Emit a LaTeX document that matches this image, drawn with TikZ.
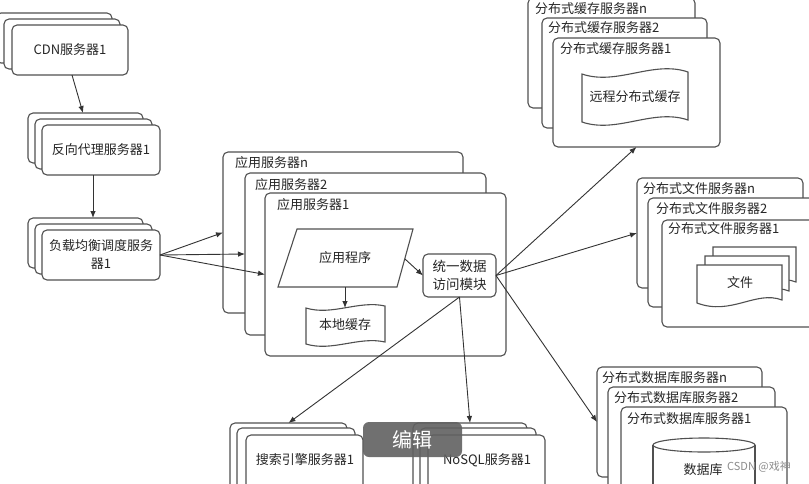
\documentclass[tikz,border=0pt]{standalone}
\usepackage{fontspec}
\setmainfont{Noto Sans CJK SC}
\usetikzlibrary{arrows.meta}
\definecolor{ln}{HTML}{505050}
\newcommand\mksrv[5]{\node[srv, anchor=north west, minimum width=#4pt, minimum height=#5pt] (#1) at (#2,#3) {};}
\begin{document}
\begin{tikzpicture}[x=1pt,y=-1pt,
 srv/.style={draw=ln, fill=white, line width=1.1pt, rounded corners=5pt, inner sep=0pt, outer sep=0pt},
 lbl/.style={font=\fontsize{13}{15}\selectfont, text=black!85, inner sep=0pt, anchor=west},
 txt/.style={font=\fontsize{13}{18}\selectfont, text=black!85, inner sep=0pt, align=center},
 shp/.style={draw=ln, fill=white, line width=1.1pt},
 arr/.style={draw=black!80, line width=0.9pt, -{Latex[length=7pt,width=5.5pt]}},
]
\useasboundingbox (0,0) rectangle (809,483);
\clip (0,0) rectangle (809,483);
\fill[white] (0,0) rectangle (809,483);

% CDN stack
\mksrv{cdn3}{-4}{13}{116}{50}
\mksrv{cdn2}{4}{19}{116}{50}
\node[srv, anchor=north west, minimum width=116pt, minimum height=50pt, txt] (cdn1) at (12,25) {CDN服务器1};
% reverse proxy
\mksrv{px3}{28}{113}{115}{50}
\mksrv{px2}{35}{119}{117}{50}
\node[srv, anchor=north west, minimum width=118pt, minimum height=50pt, txt] (px1) at (42,125) {反向代理服务器1};
% load balancer
\mksrv{lb3}{28}{218}{115}{50}
\mksrv{lb2}{35}{224}{117}{50}
\node[srv, anchor=north west, minimum width=118pt, minimum height=50pt, txt] (lb1) at (42,230) {负载均衡调度服务\\器1};

% application servers
\mksrv{appn}{223}{152}{240}{161}
\node[lbl] (lappn) at (235,163) {应用服务器n};
\mksrv{app2}{245}{173}{241}{162}
\node[lbl] (lapp2) at (255,185) {应用服务器2};
\mksrv{app1}{265}{193}{241}{163}
\node[lbl] (lapp1) at (277,205) {应用服务器1};
\draw[shp] (297,229) -- (413,229) -- (397,287) -- (278,287) -- cycle;
\node[txt] (prog) at (345,258) {应用程序};
\coordinate (progR) at (405,259);
\coordinate (progB) at (345,287);
\draw[shp] (306,308) .. controls (332,316) and (359,300) .. (385,306) -- (385,342) .. controls (359,336) and (332,352) .. (306,344) -- cycle;
\node[txt] (localc) at (345,325) {本地缓存};
\coordinate (localT) at (345,308);
\node[srv, anchor=north west, minimum width=73pt, minimum height=43pt, txt, font=\fontsize{13.5}{18}\selectfont] (module) at (423,254) {统一数据\\访问模块};

% cache servers
\mksrv{cachen}{528}{-2}{167}{110}
\node[lbl] (lcachen) at (535,9) {分布式缓存服务器n};
\mksrv{cache2}{542}{18}{165}{110}
\node[lbl] (lcache2) at (548,28) {分布式缓存服务器2};
\mksrv{cache1}{553}{38}{167}{109}
\node[lbl] (lcache1) at (560,49) {分布式缓存服务器1};
\draw[shp] (582,74) .. controls (617,86) and (653,60) .. (688,72) -- (688,120) .. controls (653,108) and (617,134) .. (582,122) -- cycle;
\node[txt] (remote) at (635,97) {远程分布式缓存};

% file servers
\mksrv{filen}{637}{178}{166}{110}
\node[lbl] (lfilen) at (643,189) {分布式文件服务器n};
\mksrv{file2}{648}{198}{167}{109}
\node[lbl] (lfile2) at (656,209) {分布式文件服务器2};
\mksrv{file1}{662}{220}{168}{107}
\node[lbl] (lfile1) at (668,229) {分布式文件服务器1};
\draw[shp] (713,247) -- (796,247) -- (796,282) .. controls (770,272) and (745,298) .. (713,285) -- cycle;
\draw[shp] (705,256) -- (789,256) -- (789,291) .. controls (763,281) and (738,307) .. (705,294) -- cycle;
\draw[shp] (697,265) -- (782,265) -- (782,300) .. controls (756,290) and (731,316) .. (697,303) -- cycle;
\node[txt] (files) at (740,283) {文件};

% database servers
\mksrv{dbn}{597}{367}{165}{110}
\node[lbl] (ldbn) at (602,378) {分布式数据库服务器n};
\mksrv{db2}{608}{387}{167}{110}
\node[lbl] (ldb2) at (614,398) {分布式数据库服务器2};
\mksrv{db1}{621}{407}{166}{110}
\node[lbl] (ldb1) at (627,419) {分布式数据库服务器1};
\filldraw[shp] (653,445) -- (653,500) -- (755,500) -- (755,445);
\draw[shp] (704,445) ellipse [x radius=51pt, y radius=7pt];
\node[txt] (dbtxt) at (703,470) {数据库};

% search servers
\mksrv{se3}{230}{423}{117}{80}
\mksrv{se2}{237}{428}{118}{80}
\mksrv{se1}{246}{435}{117}{80}
\node[txt] (setxt) at (305,460) {搜索引擎服务器1};
% NoSQL servers
\mksrv{ns3}{413}{423}{114}{80}
\mksrv{ns2}{420}{428}{116}{80}
\mksrv{ns1}{428}{435}{117}{80}
\node[txt] (nstxt) at (487,460) {NoSQL服务器1};

% connectors
\draw[arr] ([xshift=2pt]cdn1.south) -- ([xshift=-2.5pt]px3.north);
\draw[arr] ([xshift=-8pt]px1.south) -- ([xshift=7.5pt]lb3.north);
\draw[arr] (lb1.east) -- (appn.west);
\draw[arr] (lb1.east) -- (app2.west);
\draw[arr] (lb1.east) -- (app1.west);
\draw[arr] (progB) -- (localT);
\draw[arr] (progR) -- (module.west);
\draw[arr] (module.east) -- (cache1.south);
\draw[arr] (module.east) -- (filen.west);
\draw[arr] (module.east) -- (dbn.west);
\draw[arr] (module.south) -- (se3.north);
\draw[arr] (module.south) -- (ns3.north);

% overlay and watermark
\node[fill=black!62, fill opacity=0.9, text opacity=1, text=white, rounded corners=6pt, minimum width=99pt, minimum height=35pt, inner sep=0pt, font=\fontsize{20}{22}\selectfont] (edit) at (412.5,439.5) {编辑};
\node[font=\fontsize{11}{12}\selectfont, text=black!45, anchor=west, inner sep=0pt] (wm) at (727,467) {CSDN @戏神};
\end{tikzpicture}
\end{document}
